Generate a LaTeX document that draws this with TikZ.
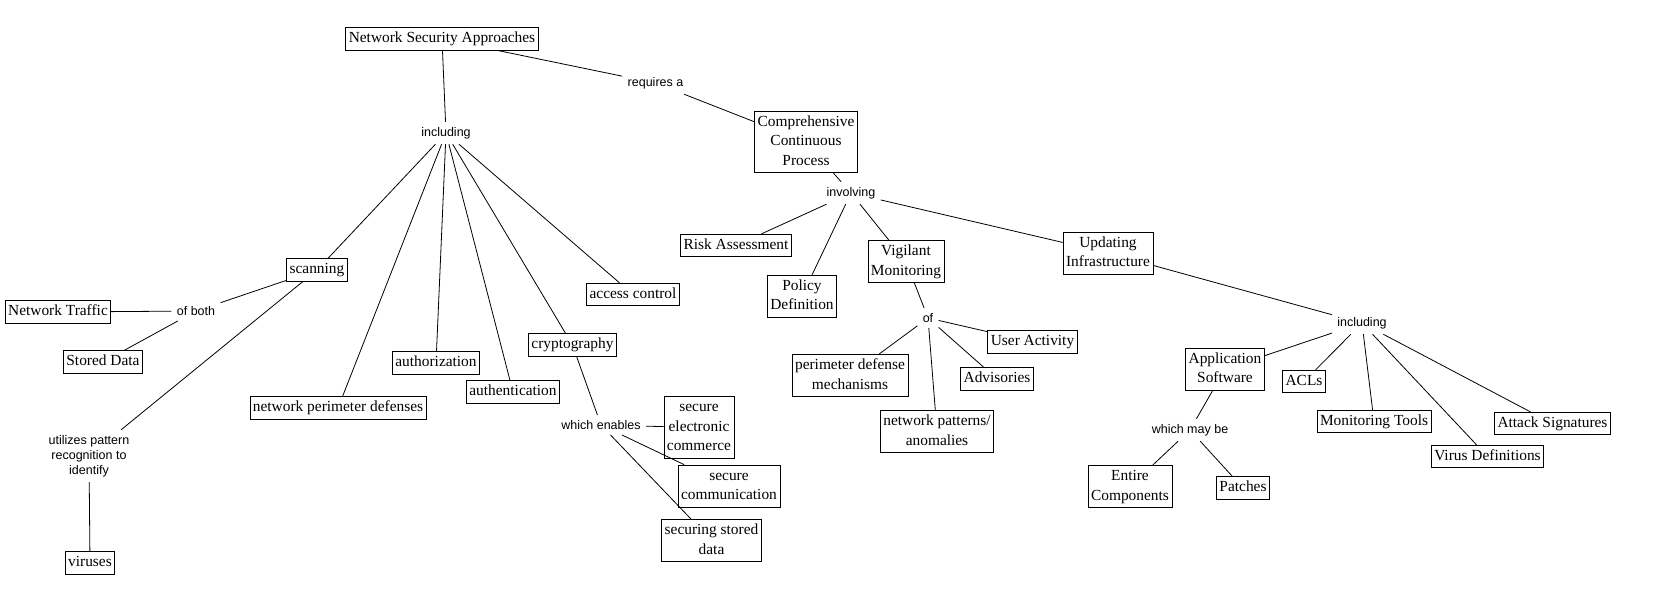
\documentclass[tikz,border=0pt]{standalone}
\usepackage{fontspec}
\setmainfont{Liberation Serif}
\setsansfont{Liberation Sans}
\usepackage{tikz}

\begin{document}
\begin{tikzpicture}[
  x=1pt, y=-1pt, line width=0.8pt,
  concept/.style={draw, inner xsep=3pt, inner ysep=1.5pt, align=center,
    font=\fontsize{15.4}{19.5}\selectfont,
    execute at begin node=\strut, execute at end node=\strut},
  link/.style={inner sep=5pt, align=center, font=\sffamily\fontsize{12.5}{15}\selectfont},
]
\useasboundingbox (0,0) rectangle (1655,614);

\node[concept] (nsa) at (442,39) {Network Security Approaches};
\node[link] (inc1) at (446,133) {including};
\node[link] (req) at (655.5,83) {requires a};
\node[concept] (ccp) at (806,142) {\strut Comprehensive\\Continuous\\Process};

\node[concept] (scan) at (317,270) {scanning};
\node[concept] (npd) at (338,408) {network perimeter defenses};
\node[concept] (authz) at (436,363) {authorization};
\node[concept] (authn) at (513,392) {authentication};
\node[concept] (crypto) at (572.5,345) {cryptography};
\node[concept] (acc) at (633,294.5) {access control};

\node[link] (both) at (196,311) {of both};
\node[concept] (traffic) at (58,312) {Network Traffic};
\node[concept] (stored) at (103,362) {Stored Data};
\node[link] (util) at (89,456) {utilizes pattern\\recognition to\\identify};
\node[concept] (viruses) at (90,563) {viruses};

\node[link] (enables) at (601,425) {which enables};
\node[concept] (ecom) at (699,427.5) {\strut secure\\electronic\\commerce};
\node[concept] (comm) at (729,486) {\strut secure\\communication};
\node[concept] (sdata) at (711.5,540.5) {\strut securing stored\\data};

\node[link] (inv) at (851,193) {involving};
\node[concept] (risk) at (736,245.5) {Risk Assessment};
\node[concept] (policy) at (802,296) {\strut Policy\\Definition};
\node[concept] (vigil) at (906,261.5) {\strut Vigilant\\Monitoring};
\node[concept] (upd) at (1108,253) {\strut Updating\\Infrastructure};

\node[link] (of) at (928,318) {of};
\node[concept] (pdm) at (850,375.5) {\strut perimeter defense\\mechanisms};
\node[concept] (npa) at (937,431.5) {\strut network patterns/\\anomalies};
\node[concept] (adv) at (997,379) {Advisories};
\node[concept] (user) at (1032.5,342) {User Activity};

\node[link] (inc2) at (1362,323) {including};
\node[concept] (app) at (1225,369) {\strut Application\\Software};
\node[concept] (acl) at (1304,381.5) {ACLs};
\node[concept] (mon) at (1374,421.5) {Monitoring Tools};
\node[concept] (virdef) at (1487.5,456.5) {Virus Definitions};
\node[concept] (atk) at (1552.5,423.5) {Attack Signatures};

\node[link] (maybe) at (1190,430) {which may be};
\node[concept] (entire) at (1130,486.5) {\strut Entire\\Components};
\node[concept] (patch) at (1243,488) {Patches};

\foreach \a/\b in {nsa/inc1, nsa/req, req/ccp,
    inc1/scan, inc1/npd, inc1/authz, inc1/authn, inc1/crypto, inc1/acc,
    scan/both, both/traffic, both/stored, scan/util, util/viruses,
    crypto/enables, enables/ecom, enables/comm, enables/sdata,
    ccp/inv, inv/risk, inv/policy, inv/vigil, inv/upd,
    vigil/of, of/pdm, of/npa, of/adv, of/user,
    upd/inc2, inc2/app, inc2/acl, inc2/mon, inc2/virdef, inc2/atk,
    app/maybe, maybe/entire, maybe/patch}
  \draw (\a) -- (\b);
\end{tikzpicture}
\end{document}
